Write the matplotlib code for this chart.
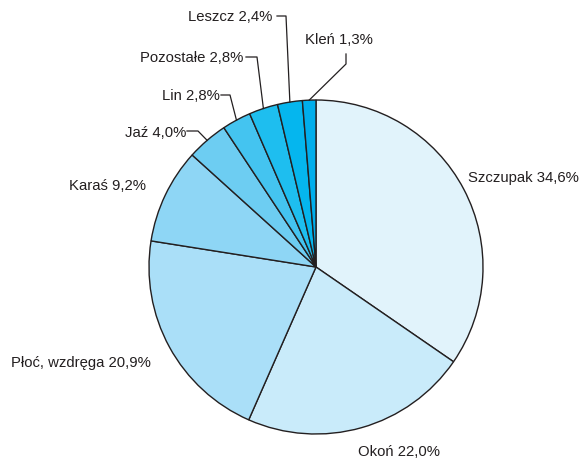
import numpy as np
import matplotlib
matplotlib.use("Agg")
import matplotlib.pyplot as plt

# slices, clockwise from 12 o'clock
names = ["Szczupak", "Okoń", "Płoć, wzdręga", "Karaś", "Jaź", "Lin", "Pozostałe", "Leszcz", "Kleń"]
shares = [34.6, 22.0, 20.9, 9.2, 4.0, 2.8, 2.8, 2.4, 1.3]
colors = ["#e1f3fb", "#c9ebfa", "#aadff8", "#8ed6f5", "#6dcdf2",
          "#44c4f0", "#1ebeef", "#05b6ee", "#00aeec"]

W, H = 581, 460
ink = "#231f20"
plt.rcParams['font.family'] = ['Liberation Sans', 'DejaVu Sans']

fig = plt.figure(figsize=(W / 100, H / 100), dpi=100)
ax = fig.add_axes([0, 0, 1, 1])

cx, cy, r = 316, H - 268, 167
wedges, _ = ax.pie(shares, startangle=90, counterclock=False, colors=colors,
                   center=(cx, cy), radius=r,
                   wedgeprops=dict(edgecolor=ink, linewidth=1.0))
ax.set_xlim(0, W)
ax.set_ylim(0, H)
ax.set_aspect('auto')
ax.axis('off')

def lab(i):
    return f"{names[i]} {shares[i]:.1f}%".replace(".", ",")

def arc_point(i):
    w = wedges[i]
    a = np.deg2rad((w.theta1 + w.theta2) / 2)
    return cx + r * np.cos(a), cy + r * np.sin(a)

fs = 10.7
# big slices: plain labels (image coords)
plain = {0: (468, 178, 'left'), 1: (358, 452, 'left'), 2: (151, 363, 'right'), 3: (146, 186, 'right')}
for i, (x, y, ha) in plain.items():
    ax.text(x, H - y, lab(i), ha=ha, va='center', fontsize=fs, color=ink)

# small slices: label + leader line (text x, text y, elbow points in image coords)
lead = {
    4: (186, 133, [(187, 132), (198, 132)]),
    5: (220, 96, [(221, 96), (230, 96)]),
    6: (243, 58, [(246, 58), (257, 58)]),
    7: (272, 17, [(277, 17), (286, 17)]),
}
for i, (tx, ty, pts) in lead.items():
    ax.text(tx, H - ty, lab(i), ha='right', va='center', fontsize=fs, color=ink)
    ex, ey = arc_point(i)
    xs = [p[0] for p in pts] + [ex]
    ys = [H - p[1] for p in pts] + [ey]
    ax.plot(xs, ys, color=ink, lw=0.9)

# Kleń: label above, line goes down-left
ax.text(305, H - 40, lab(8), ha='left', va='center', fontsize=fs, color=ink)
ex, ey = arc_point(8)
ax.plot([346, 346, ex], [H - 55, H - 65, ey], color=ink, lw=0.9)

fig.savefig("out.png", dpi=100)
